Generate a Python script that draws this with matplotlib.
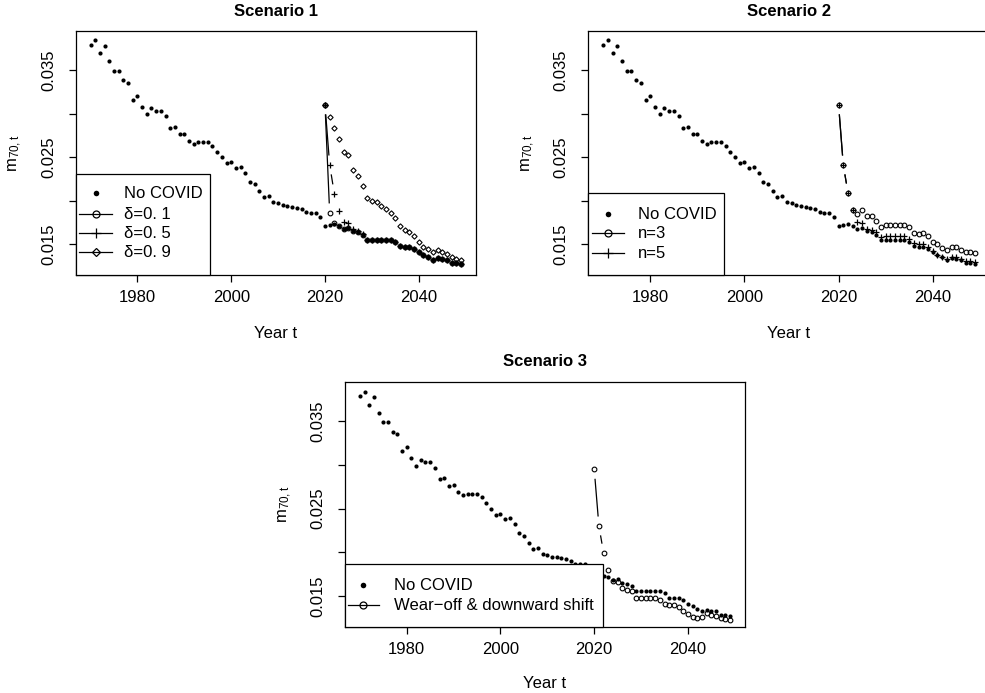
import matplotlib
matplotlib.use('Agg')
import matplotlib.pyplot as plt
from matplotlib.lines import Line2D
from matplotlib.patches import Rectangle

plt.rcParams['font.family'] = ['Liberation Sans', 'DejaVu Sans']
plt.rcParams['mathtext.fontset'] = 'custom'
plt.rcParams['mathtext.rm'] = 'Liberation Sans'
plt.rcParams['mathtext.it'] = 'Liberation Sans'

# ---------------- data ----------------
years_hist = list(range(1970, 2020))
years_proj = list(range(2020, 2050))

hist = [0.0379, 0.0384, 0.0369, 0.0378, 0.0360, 0.0349, 0.0349, 0.0338, 0.0335, 0.0316,
        0.0320, 0.0308, 0.0299, 0.0306, 0.0303, 0.0303, 0.0297, 0.0284, 0.0285, 0.0276,
        0.0277, 0.0269, 0.0265, 0.0267, 0.0267, 0.0267, 0.0263, 0.0256, 0.0250, 0.0243,
        0.0244, 0.0238, 0.0239, 0.0232, 0.0222, 0.0219, 0.0211, 0.0204, 0.0205, 0.0198,
        0.0197, 0.0195, 0.0194, 0.0193, 0.0192, 0.0190, 0.0187, 0.0186, 0.0186, 0.0181]

no_covid_proj = [0.0171, 0.0172, 0.0173, 0.0171, 0.0168, 0.0169, 0.0165, 0.0164, 0.0161, 0.0155,
                 0.0155, 0.0155, 0.0155, 0.0155, 0.0155, 0.0153, 0.0148, 0.0147, 0.0147, 0.0145,
                 0.0141, 0.0138, 0.0135, 0.0132, 0.0134, 0.0133, 0.0132, 0.0128, 0.0128, 0.0127]

s1_delta01 = [0.0310, 0.0186, 0.0174, 0.0171, 0.0168, 0.0169, 0.0165, 0.0164, 0.0161, 0.0155,
              0.0155, 0.0155, 0.0155, 0.0155, 0.0155, 0.0153, 0.0148, 0.0147, 0.0147, 0.0145,
              0.0141, 0.0138, 0.0135, 0.0132, 0.0134, 0.0133, 0.0132, 0.0128, 0.0128, 0.0127]

s1_delta05 = [0.0310, 0.0241, 0.0208, 0.0188, 0.0176, 0.0175, 0.0168, 0.0165, 0.0162, 0.0155,
              0.0155, 0.0155, 0.0155, 0.0155, 0.0155, 0.0153, 0.0148, 0.0147, 0.0147, 0.0145,
              0.0141, 0.0138, 0.0135, 0.0132, 0.0134, 0.0133, 0.0132, 0.0128, 0.0128, 0.0127]

s1_delta09 = [0.0310, 0.0296, 0.0283, 0.0271, 0.0256, 0.0252, 0.0235, 0.0228, 0.0217, 0.0203,
              0.0200, 0.0198, 0.0194, 0.0191, 0.0186, 0.0180, 0.0171, 0.0166, 0.0164, 0.0159,
              0.0153, 0.0147, 0.0145, 0.0141, 0.0143, 0.0141, 0.0139, 0.0135, 0.0133, 0.0132]

s2_n3 = [0.0310, 0.0241, 0.0209, 0.0189, 0.0185, 0.0189, 0.0182, 0.0182, 0.0177, 0.0170,
         0.0172, 0.0172, 0.0172, 0.0172, 0.0172, 0.0170, 0.0163, 0.0162, 0.0163, 0.0159,
         0.0153, 0.0150, 0.0146, 0.0143, 0.0147, 0.0147, 0.0144, 0.0141, 0.0141, 0.0140]

s2_n5 = [0.0310, 0.0241, 0.0209, 0.0189, 0.0176, 0.0174, 0.0167, 0.0166, 0.0164, 0.0158,
         0.0159, 0.0159, 0.0159, 0.0159, 0.0159, 0.0156, 0.0151, 0.0150, 0.0150, 0.0147,
         0.0142, 0.0138, 0.0136, 0.0133, 0.0136, 0.0135, 0.0133, 0.0131, 0.0131, 0.0130]

s3_wearoff = [0.0295, 0.0230, 0.0199, 0.0180, 0.0167, 0.0166, 0.0159, 0.0157, 0.0155, 0.0147,
              0.0147, 0.0147, 0.0147, 0.0147, 0.0145, 0.0141, 0.0140, 0.0140, 0.0137, 0.0133,
              0.0129, 0.0126, 0.0124, 0.0126, 0.0130, 0.0128, 0.0127, 0.0125, 0.0123, 0.0122]

x_ticks = [1980, 2000, 2020, 2040]
y_ticks = [0.015, 0.020, 0.025, 0.030, 0.035]
y_ticklabels = ['0.015', '', '0.025', '', '0.035']

# ---------------- layout ----------------
W, H = 985, 693
fig = plt.figure(figsize=(W / 100, H / 100), dpi=100)
FS = 12


def fpos(x, y):
    return (x / W, 1 - y / H)


def add_ax(l, r, t, b):
    ax = fig.add_axes([l / W, 1 - b / H, (r - l) / W, (b - t) / H])
    ax.set_xlim(1966.84, 2052.16)
    ax.set_ylim(0.011478, 0.039475)
    ax.set_xticks(x_ticks)
    ax.set_xticklabels([str(v) for v in x_ticks], fontsize=FS)
    ax.set_yticks(y_ticks)
    ax.set_yticklabels(y_ticklabels, fontsize=FS, rotation=90, va='center')
    ax.tick_params(axis='both', direction='out', length=5, width=0.9, color='black')
    ax.tick_params(axis='x', pad=6)
    ax.tick_params(axis='y', pad=9)
    for s in ax.spines.values():
        s.set_linewidth(0.9)
    return ax


def type_b(ax, x, y, marker, ms, gap=9.5, mew=0.8, mfc='none', zorder=3):
    ax.plot(x, y, linestyle='none', marker=marker, ms=ms, mfc=mfc, mec='black',
            mew=mew, color='black', zorder=zorder)
    tr = ax.transData
    inv = tr.inverted()
    for i in range(len(x) - 1):
        p0 = tr.transform((x[i], y[i]))
        p1 = tr.transform((x[i + 1], y[i + 1]))
        d = p1 - p0
        L = (d[0] ** 2 + d[1] ** 2) ** 0.5
        if L > 2 * gap:
            u = d / L
            a = inv.transform(p0 + u * gap)
            b = inv.transform(p1 - u * gap)
            ax.plot([a[0], b[0]], [a[1], b[1]], color='black', lw=0.9, zorder=zorder,
                    solid_capstyle='butt')


def no_covid(ax):
    ax.plot(years_hist + years_proj, hist + no_covid_proj, linestyle='none', marker='o',
            ms=3.0, mfc='black', mec='black', mew=0, zorder=2)


def legend(x0, x1, y0, y1, entries, mx, lx0, lx1, tx, ys):
    fig.add_artist(Rectangle(fpos(x0, y1), (x1 - x0) / W, (y1 - y0) / H,
                             transform=fig.transFigure, facecolor='white',
                             edgecolor='black', lw=0.9, zorder=5))
    for (label, marker, ms, mfc, has_line, mew), yy in zip(entries, ys):
        if has_line:
            fig.add_artist(Line2D([lx0 / W, lx1 / W], [1 - yy / H, 1 - yy / H],
                                  transform=fig.transFigure, color='black', lw=0.9, zorder=6))
        fig.add_artist(Line2D([mx / W], [1 - yy / H], transform=fig.transFigure,
                              linestyle='none', marker=marker, ms=ms, mfc=mfc, mec='black',
                              mew=mew, zorder=7))
        fig.text(tx / W, 1 - yy / H, label, fontsize=FS, va='center', ha='left', zorder=8)


def labels(ax_l, ax_r, ax_t, ylab_x, title_y, xlab_y):
    cx = (ax_l + ax_r) / 2
    fig.text(*fpos(cx, title_y), None or '', fontsize=FS)


# ---------- Scenario 1 ----------
ax1 = add_ax(75.7, 475.8, 31, 275)
no_covid(ax1)
type_b(ax1, years_proj, s1_delta01, 'o', 3.4)
type_b(ax1, years_proj, s1_delta05, '+', 4.5, mew=0.9)
type_b(ax1, years_proj, s1_delta09, 'D', 2.7)
legend(75.7, 210, 174, 275,
       [('No COVID', 'o', 4.0, 'black', False, 0),
        ('δ=0. 1', 'o', 5.0, 'none', True, 0.9),
        ('δ=0. 5', '+', 7.0, 'none', True, 0.9),
        ('δ=0. 9', 'D', 4.3, 'none', True, 0.9)],
       95.7, 79, 112, 124, [193.3, 214, 233.3, 252.3])
fig.text(*fpos(275.7, 12), 'Scenario 1', fontsize=FS, fontweight='bold', ha='center', va='center')
fig.text(*fpos(275.7, 333), 'Year t', fontsize=FS, ha='center', va='center')
fig.text(*fpos(15, 153), r'$\mathregular{m_{70,t}}$', fontsize=FS, ha='center', va='center', rotation=90)

# ---------- Scenario 2 ----------
ax2 = add_ax(588.3, 990, 31, 275)
no_covid(ax2)
type_b(ax2, years_proj, s2_n3, 'o', 3.4)
type_b(ax2, years_proj, s2_n5, '+', 4.5, mew=0.9)
legend(588.3, 724.3, 193.3, 275,
       [('No COVID', 'o', 4.0, 'black', False, 0),
        ('n=3', 'o', 5.0, 'none', True, 0.9),
        ('n=5', '+', 7.0, 'none', True, 0.9)],
       607.7, 592, 624, 638.3, [214, 233.3, 253.3])
fig.text(*fpos(789, 12), 'Scenario 2', fontsize=FS, fontweight='bold', ha='center', va='center')
fig.text(*fpos(789, 333), 'Year t', fontsize=FS, ha='center', va='center')
fig.text(*fpos(528, 153), r'$\mathregular{m_{70,t}}$', fontsize=FS, ha='center', va='center', rotation=90)

# ---------- Scenario 3 ----------
ax3 = add_ax(345, 745, 382.3, 626.5)
no_covid(ax3)
type_b(ax3, years_proj, s3_wearoff, 'o', 3.4)
legend(345, 602.7, 564, 626.5,
       [('No COVID', 'o', 4.0, 'black', False, 0),
        ('Wear\u2212off & downward shift', 'o', 5.0, 'none', True, 0.9)],
       363.3, 348, 379, 394, [585, 605])
fig.text(*fpos(545, 362), 'Scenario 3', fontsize=FS, fontweight='bold', ha='center', va='center')
fig.text(*fpos(545, 683), 'Year t', fontsize=FS, ha='center', va='center')
fig.text(*fpos(285, 504), r'$\mathregular{m_{70,t}}$', fontsize=FS, ha='center', va='center', rotation=90)

fig.savefig('out.png', dpi=100)
